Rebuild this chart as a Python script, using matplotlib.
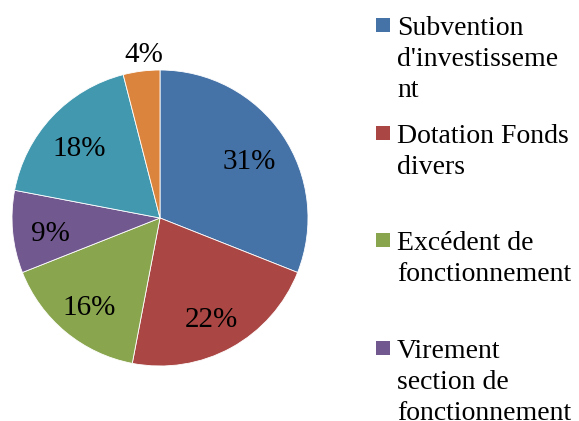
import math
import matplotlib
matplotlib.use('Agg')
import matplotlib.pyplot as plt
from matplotlib.patches import Rectangle
from matplotlib.transforms import offset_copy

# Data
SHARES = [31, 22, 16, 9, 18, 4]
LABELS = [
    ["Subvention", "d'investisseme", "nt"],
    ["Dotation Fonds", "divers"],
    ["Excédent de", "fonctionnement"],
    ["Virement", "section de", "fonctionnement"],
    [],  # legend entries below are cut off in the original
    [],
]
COLORS = ["#4572A7", "#AA4643", "#89A54E", "#71588F", "#4198AF", "#DB843D"]

W, H = 579, 421
FONT = "Liberation Serif"
FS = 20

fig = plt.figure(figsize=(W / 100, H / 100), dpi=100)

# pie: centre (160, 218) px, radius 148 px
cx, cy, r = 160, 218, 148
ax = fig.add_axes([(cx - r) / W, 1 - (cy + r) / H, 2 * r / W, 2 * r / H])
wedges, texts, autotexts = ax.pie(
    SHARES, colors=COLORS, startangle=90, counterclock=False,
    autopct=lambda p: f"{p:.0f}%", pctdistance=0.74,
    wedgeprops=dict(edgecolor="white", linewidth=0.6),
    textprops=dict(fontfamily=FONT, fontsize=21, color="black"),
)
# nudge labels down a bit (Excel centres on glyphs, not on the text box)
shift = offset_copy(ax.transData, fig=fig, x=-1, y=-6, units="dots")
for w, t, v in zip(wedges, autotexts, SHARES):
    t.set_transform(shift)
    if v < 5:
        # small slice label sits outside the pie
        ang = math.radians((w.theta1 + w.theta2) / 2 - 2)
        t.set_position((1.15 * math.cos(ang), 1.15 * math.sin(ang)))
ax.set_xlim(-1, 1)
ax.set_ylim(-1, 1)
ax.set_aspect("equal")
ax.axis("off")

# legend, evenly spaced entries like Excel
first_base = 35
step = 107.7
line_h = 31
for i, (lines, col) in enumerate(zip(LABELS, COLORS)):
    if not lines:
        continue
    base = first_base + i * step
    fig.patches.append(Rectangle((376 / W, 1 - (base - 3) / H), 14 / W, 14 / H,
                                 transform=fig.transFigure, facecolor=col,
                                 edgecolor="none"))
    for j, line in enumerate(lines):
        fig.text(397 / W, 1 - (base + j * line_h) / H, line,
                 fontfamily=FONT, fontsize=FS, va="baseline", ha="left")

fig.savefig("out.png", dpi=100, facecolor="white")
